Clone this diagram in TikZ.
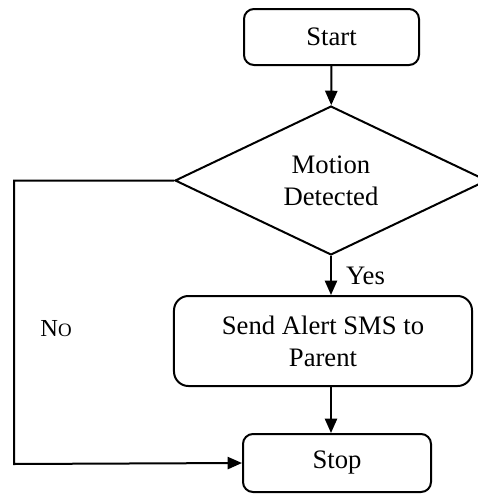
\documentclass[tikz,border=0pt]{standalone}
\usepackage{fontspec}
\setmainfont{Liberation Serif}
\usetikzlibrary{shapes.geometric, arrows.meta, positioning}

\tikzset{
  flowbox/.style={draw, rounded corners=4.5pt, line width=0.9pt, align=center,
    font=\fontsize{12}{14.4}\selectfont, inner sep=0pt},
  decision/.style={draw, diamond, line width=0.9pt, align=center,
    font=\fontsize{12}{14.4}\selectfont, inner sep=0pt},
  flowarrow/.style={line width=0.9pt, -{Triangle[length=6.5pt,width=5.5pt]}}
}

\begin{document}
\begin{tikzpicture}[x=0.45pt, y=-0.45pt]
\useasboundingbox (0,0) rectangle (478,494);
% boxes
\node [flowbox, minimum width=78.75pt, minimum height=25.2pt] (start) at (331.5,37) {Start};
\node [decision, minimum width=140.4pt, minimum height=67pt] (motion) at (331,180.5) {Motion\\Detected};
\node [flowbox, rounded corners=6.5pt, minimum width=134.1pt, minimum height=40.5pt] (sms) at (323,341) {Send Alert SMS to\\Parent};
\node [flowbox, minimum width=84.6pt, minimum height=26.1pt] (stop) at (337,463) {Stop};
\coordinate (corner) at (14,464);
% arrows
\draw [flowarrow] (start) -- (motion);
\draw [flowarrow] (motion.south) -- node [right, xshift=3pt, font=\fontsize{12}{14.4}\selectfont] {Yes} (motion.south |- sms.north);
\draw [flowarrow] (motion.south |- sms.south) -- (motion.south |- stop.north);
\draw [flowarrow] (motion.west) -| (corner) -- (stop.west);
\node [font=\fontsize{11}{13}\selectfont] (nolabel) at (56,329) {N{\fontsize{8.5}{10}\selectfont O}};
\end{tikzpicture}
\end{document}
